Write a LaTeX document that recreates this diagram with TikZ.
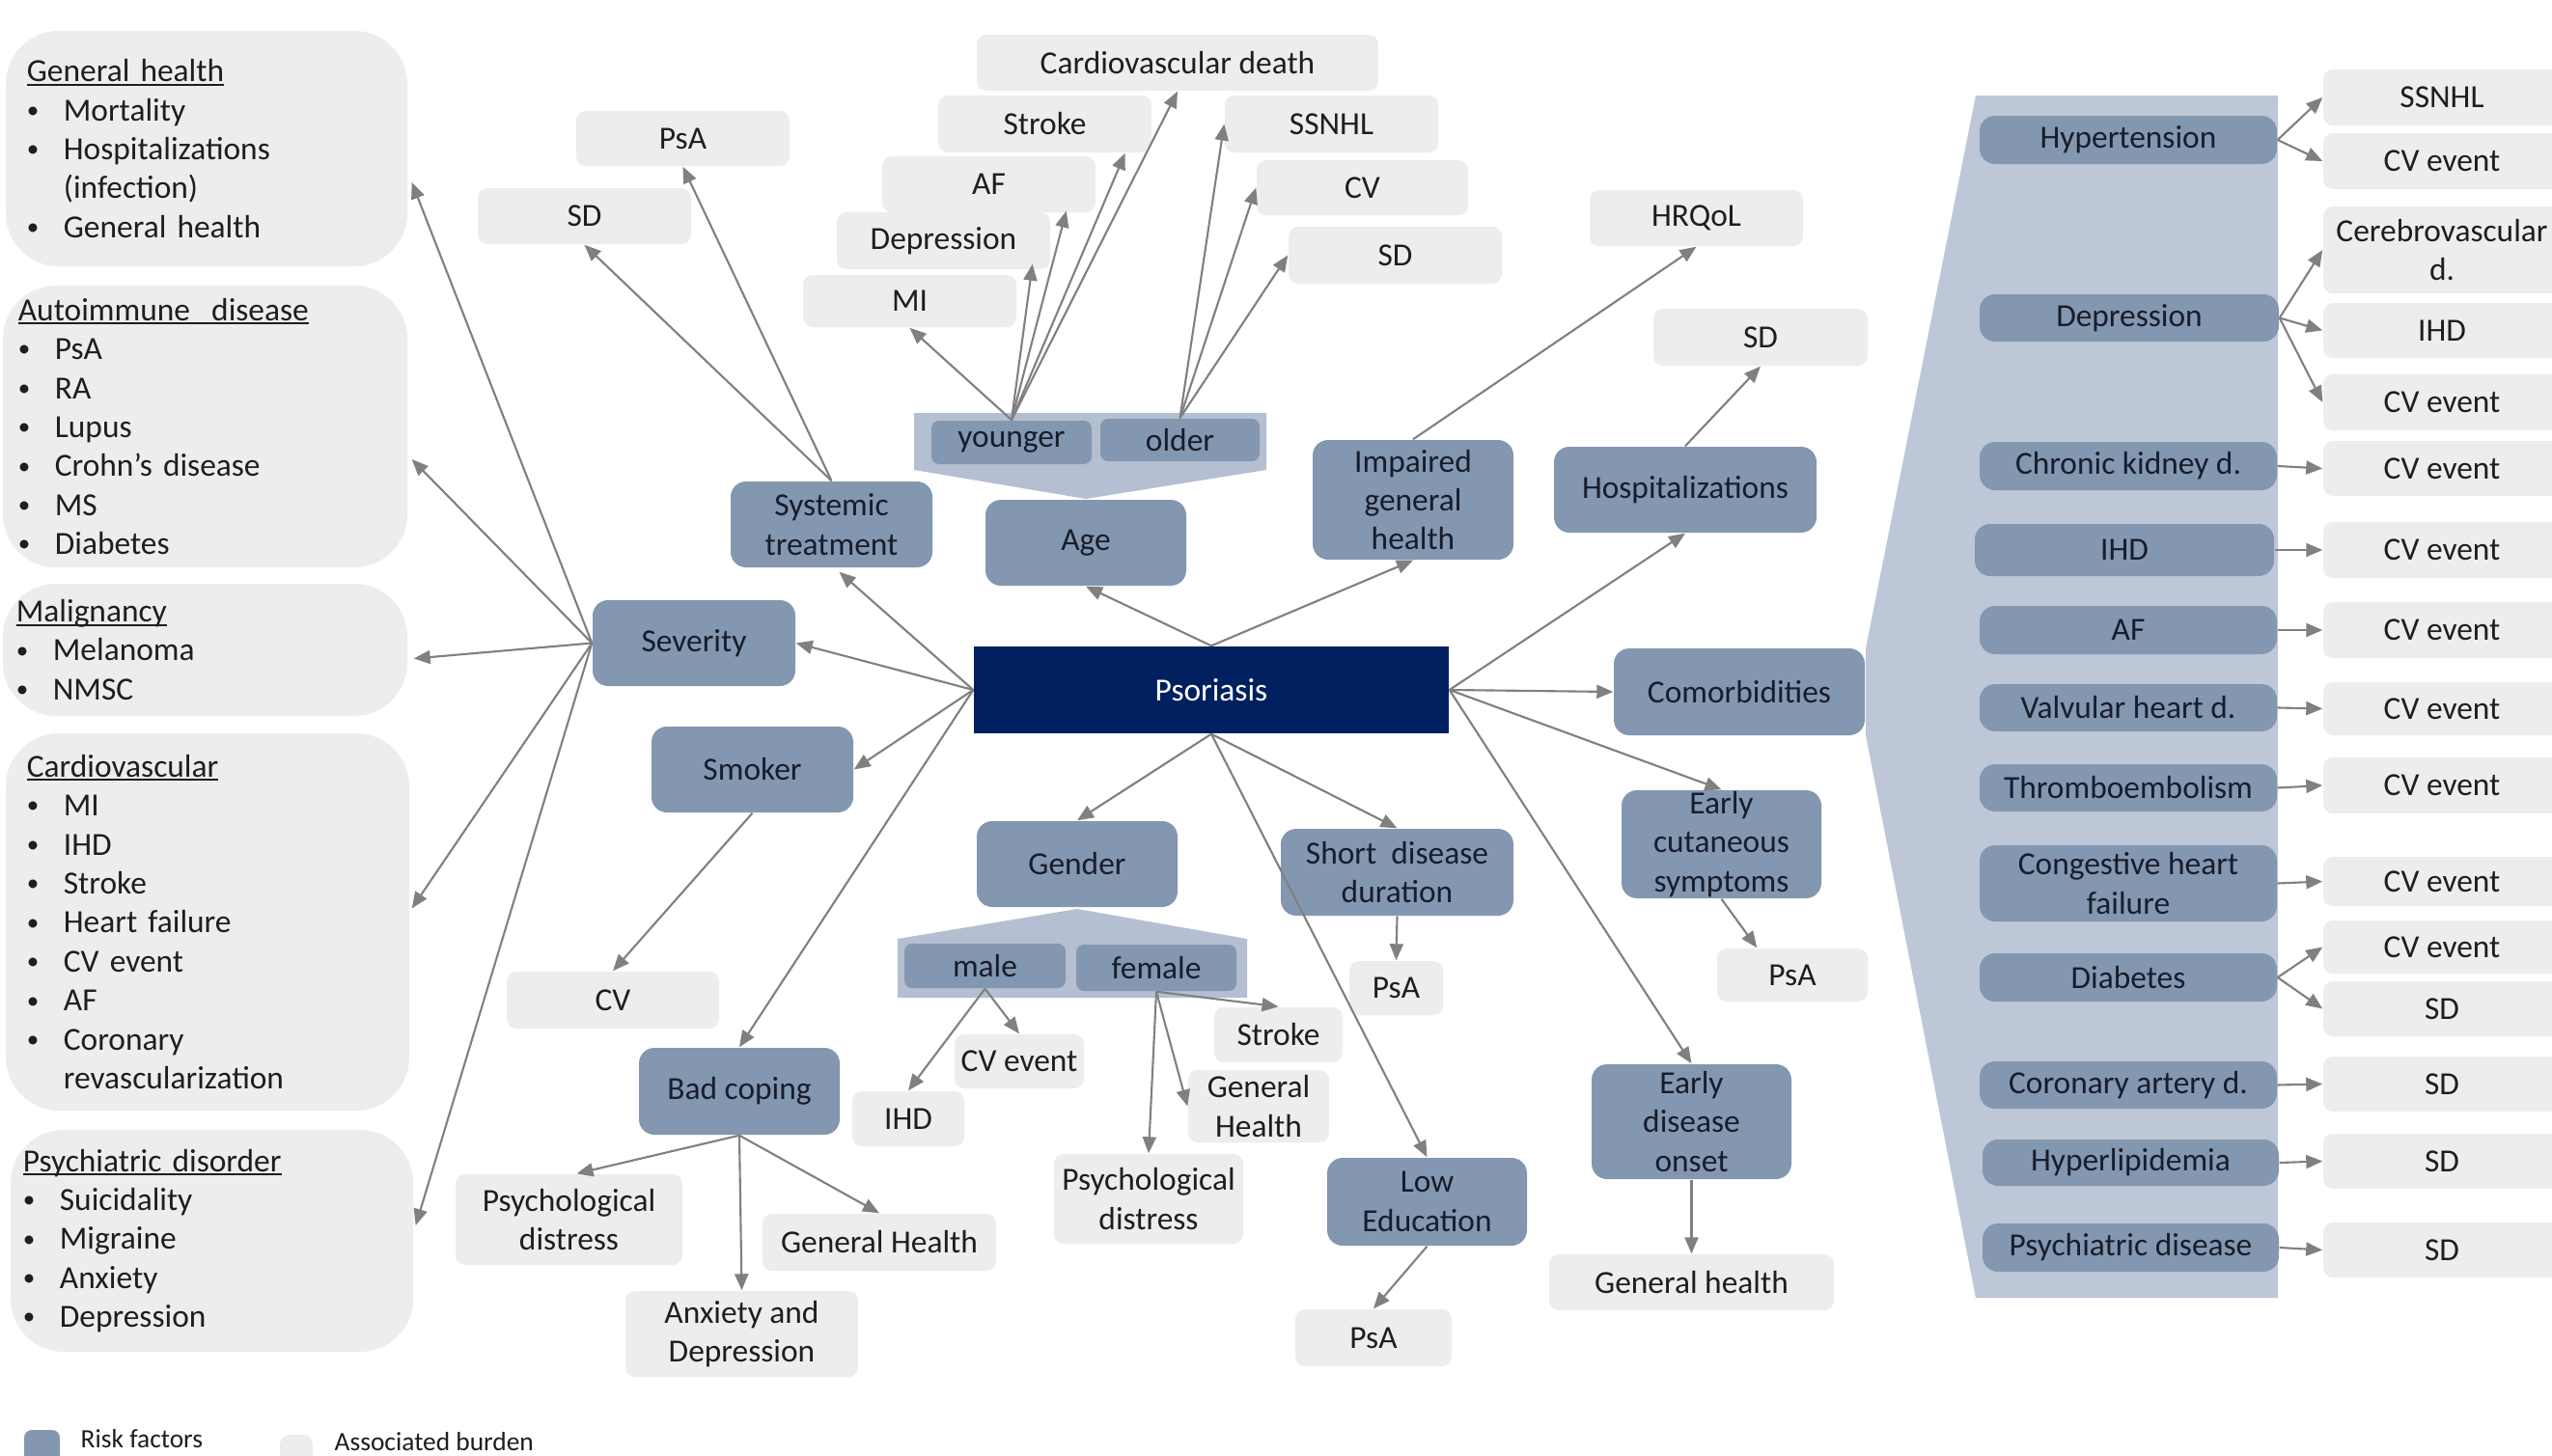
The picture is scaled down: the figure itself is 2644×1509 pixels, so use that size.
\documentclass[tikz,border=0pt]{standalone}
\usepackage{fontspec}
\setmainfont{Carlito}
\usetikzlibrary{arrows.meta,calc}
\definecolor{rfc}{HTML}{8497B0}
\definecolor{abc}{HTML}{EDEDED}
\definecolor{trayA}{HTML}{B4BFD1}
\definecolor{trayC}{HTML}{BDC7D7}
\definecolor{psoc}{HTML}{002060}
\definecolor{arrc}{HTML}{808080}
\definecolor{rftx}{HTML}{161D2C}
\definecolor{abtx}{HTML}{1E1E1E}
\newcommand\Bx[7]{\node[#1, minimum width={(#4-#2)*0.01cm}, minimum height={(#5-#3)*0.01cm}] (#6) at ({(#2+#4)/2},{(#3+#5)/2}) {#7};}
\newcommand\Bul{\makebox[0.38cm][l]{\raisebox{0.8pt}{\scalebox{0.75}{\textbullet}}}}
\newcommand\Ind{\hspace*{0.38cm}}
\newcommand\ttl[1]{\sbox0{#1}\rlap{\rule[-0.04cm]{\wd0}{0.02cm}}\usebox0}
\begin{document}
\begin{tikzpicture}[x=0.01cm, y=-0.01cm, font=\fontsize{9.5}{11.5}\selectfont,
  rf/.style={fill=rfc, rounded corners=0.16cm, text=rftx, inner sep=0pt, align=center},
  rfs/.style={rf, rounded corners=0.08cm},
  ab/.style={fill=abc, rounded corners=0.1cm, text=abtx, inner sep=0pt, align=center},
  lst/.style={fill=abc, rounded corners=0.55cm, text=abtx, inner sep=0pt, align=left},
  pso/.style={fill=psoc, text=white, inner sep=0pt},
  arr/.style={draw=arrc, line width=0.6pt, -{Triangle[length=0.17cm,width=0.14cm]}},
  leg/.style={anchor=base west, inner sep=0pt, text=abtx, font=\fontsize{7.8}{9}\selectfont}]
\useasboundingbox (0,0) rectangle (2644,1509);
\clip (0,0) rectangle (2644,1509);
\fill[white] (0,0) rectangle (2644,1509);

% trays
\fill[trayA] (947,428) -- (1312,428) -- (1312,487) -- (1125,517) -- (947,487) -- cycle;
\fill[trayA] (930,973) -- (1116,942) -- (1292,973) -- (1292,1034) -- (930,1034) -- cycle;
\fill[trayC] (2047,99) -- (2360,99) -- (2360,1345) -- (2047,1345) -- (1933,762) -- (1933,672) -- cycle;

% left lists
\Bx{lst, text width=3.72cm}{6}{32}{422}{276}{gh}{\ttl{General health}\\ \Bul Mortality\\ \Bul Hospitalizations\\ \Ind(infection)\\ \Bul General health}
\Bx{lst, text width=3.87cm}{3}{296}{422}{588}{ai}{\ttl{Autoimmune\ \ disease}\\ \Bul PsA\\ \Bul RA\\ \Bul Lupus\\ \Bul Crohn’s disease\\ \Bul MS\\ \Bul Diabetes}
\Bx{lst, text width=3.91cm}{3}{605}{422}{742}{mal}{\ttl{Malignancy}\\ \Bul Melanoma\\ \Bul NMSC}
\Bx{lst, text width=3.74cm}{6}{760}{424}{1151}{cvl}{\ttl{Cardiovascular}\\ \Bul MI\\ \Bul IHD\\ \Bul Stroke\\ \Bul Heart failure\\ \Bul CV event\\ \Bul AF\\ \Bul Coronary\\ \Ind revascularization}
\Bx{lst, text width=3.91cm}{11}{1171}{428}{1401}{psy}{\ttl{Psychiatric disorder}\\ \Bul Suicidality\\ \Bul Migraine\\ \Bul Anxiety\\ \Bul Depression}

% top associated burden
\Bx{ab}{597}{115}{818}{172}{psa1}{PsA}
\Bx{ab}{495}{195}{716}{253}{sd1}{SD}
\Bx{ab}{1012}{36}{1428}{94}{cvd}{Cardiovascular death}
\Bx{ab}{972}{99}{1193}{158}{strk1}{Stroke}
\Bx{ab}{914}{162}{1135}{220}{af1}{AF}
\Bx{ab}{867}{220}{1088}{279}{dep1}{Depression}
\Bx{ab}{832}{285}{1053}{339}{mi1}{MI}
\Bx{ab}{1269}{99}{1490}{158}{ssnhl1}{SSNHL}
\Bx{ab}{1302}{166}{1521}{223}{cv1}{CV}
\Bx{ab}{1335}{235}{1556}{294}{sd2}{SD}
\Bx{ab}{1647}{197}{1868}{255}{hrq}{HRQoL}
\Bx{ab}{1713}{320}{1935}{379}{sd3}{SD}

% risk factors
\Bx{rf}{757}{499}{966}{588}{sys}{Systemic\\treatment}
\Bx{rf}{1021}{518}{1229}{607}{age}{Age}
\Bx{rfs}{965}{436}{1131}{481}{yng}{younger}
\Bx{rfs}{1140}{434}{1305}{478}{old}{older}
\Bx{rf}{1360}{456}{1568}{580}{imp}{Impaired\\general\\health}
\Bx{rf}{1610}{463}{1882}{552}{hosp}{Hospitalizations}
\Bx{rf}{614}{622}{824}{711}{sev}{Severity}
\Bx{rf}{675}{753}{884}{842}{smk}{Smoker}
\Bx{pso}{1009}{670}{1501}{760}{pso}{Psoriasis}
\Bx{rf}{1672}{672}{1932}{762}{com}{Comorbidities}
\Bx{rf}{1012}{851}{1220}{940}{gen}{Gender}
\Bx{rfs}{937}{978}{1104}{1024}{male}{male}
\Bx{rfs}{1115}{979}{1281}{1027}{fem}{female}
\Bx{rf}{1327}{859}{1568}{949}{sdd}{Short\ \ disease\\duration}
\Bx{rf}{1680}{819}{1887}{931}{ecs}{Early\\cutaneous\\symptoms}
\Bx{rf}{662}{1086}{870}{1176}{bc}{Bad coping}
\Bx{rf}{1375}{1200}{1582}{1291}{lowe}{Low\\Education}
\Bx{rf}{1649}{1103}{1856}{1222}{edo}{Early\\disease\\onset}

% middle associated burden
\Bx{ab}{525}{1007}{745}{1066}{cvs}{CV}
\Bx{ab}{472}{1217}{707}{1311}{psd1}{Psychological\\distress}
\Bx{ab}{790}{1258}{1032}{1317}{ghb}{General Health}
\Bx{ab}{648}{1338}{889}{1427}{anx}{Anxiety and\\Depression}
\Bx{ab}{883}{1131}{999}{1188}{ihdm}{IHD}
\Bx{ab}{989}{1072}{1123}{1128}{cvm}{CV event}
\Bx{ab}{1258}{1044}{1391}{1101}{strf}{Stroke}
\Bx{ab}{1231}{1109}{1377}{1184}{ghf}{General\\Health}
\Bx{ab}{1092}{1196}{1288}{1289}{psdf}{Psychological\\distress}
\Bx{ab}{1398}{996}{1495}{1052}{psas}{PsA}
\Bx{ab}{1342}{1357}{1504}{1416}{psal}{PsA}
\Bx{ab}{1779}{983}{1935}{1038}{psac}{PsA}
\Bx{ab}{1605}{1300}{1900}{1358}{ghe}{General health}

% comorbidities
\Bx{rf}{2051}{120}{2359}{170}{hyp}{Hypertension}
\Bx{rf}{2051}{305}{2361}{354}{depr}{Depression}
\Bx{rf}{2051}{458}{2359}{508}{ckd}{Chronic kidney d.}
\Bx{rf}{2046}{543}{2356}{597}{ihdr}{IHD}
\Bx{rf}{2051}{628}{2359}{678}{afr}{AF}
\Bx{rf}{2051}{709}{2359}{758}{valv}{Valvular heart d.}
\Bx{rf}{2051}{792}{2359}{841}{thr}{Thromboembolism}
\Bx{rf}{2051}{876}{2359}{955}{chf}{Congestive heart\\failure}
\Bx{rf}{2051}{988}{2359}{1038}{diab}{Diabetes}
\Bx{rf}{2051}{1100}{2359}{1149}{cad}{Coronary artery d.}
\Bx{rf}{2054}{1181}{2361}{1229}{hyl}{Hyperlipidemia}
\Bx{rf}{2054}{1268}{2361}{1318}{psyd}{Psychiatric disease}

\Bx{ab}{2407}{72}{2653}{130}{g1}{SSNHL}
\Bx{ab}{2407}{138}{2653}{196}{g2}{CV event}
\Bx{ab}{2407}{214}{2653}{304}{g3}{Cerebrovascular\\d.}
\Bx{ab}{2407}{314}{2653}{371}{g4}{IHD}
\Bx{ab}{2407}{388}{2653}{446}{g5}{CV event}
\Bx{ab}{2407}{457}{2653}{514}{g6}{CV event}
\Bx{ab}{2407}{541}{2653}{599}{g7}{CV event}
\Bx{ab}{2407}{624}{2653}{682}{g8}{CV event}
\Bx{ab}{2407}{707}{2653}{762}{g9}{CV event}
\Bx{ab}{2407}{785}{2653}{843}{g10}{CV event}
\Bx{ab}{2407}{888}{2653}{939}{g11}{CV event}
\Bx{ab}{2407}{954}{2653}{1009}{g12}{CV event}
\Bx{ab}{2407}{1017}{2653}{1074}{g13}{SD}
\Bx{ab}{2407}{1095}{2653}{1152}{g14}{SD}
\Bx{ab}{2407}{1175}{2653}{1232}{g15}{SD}
\Bx{ab}{2407}{1267}{2653}{1324}{g16}{SD}

% legend
\Bx{rfs}{25}{1482}{62}{1530}{legrf}{}
\Bx{ab}{290}{1487}{324}{1530}{legab}{}
\node[leg] (legrft) at (83,1500) {Risk factors};
\node[leg] (legabt) at (346,1503) {Associated burden};

% connectors from Psoriasis
\draw[arr] (pso.west) -- (sev.east);
\draw[arr] (pso.west) -- (smk.east);
\draw[arr] (pso.west) -- ($(sys.south)+(8,4)$);
\draw[arr] (pso.west) -- (bc.north);
\draw[arr] (pso.north) -- (age.south);
\draw[arr] (pso.north) -- (imp.south);
\draw[arr] (pso.east) -- (hosp.south);
\draw[arr] (pso.east) -- (com.west);
\draw[arr] (pso.east) -- (ecs.north);
\draw[arr] (pso.east) -- (edo.north);
\draw[arr] (pso.south) -- (gen.north);
\draw[arr] (pso.south) -- (sdd.north);
\draw[arr] (pso.south) -- (lowe.north);

% severity
\draw[arr] (sev.west) -- ($(gh.east)+(4,35)$);
\draw[arr] (sev.west) -- ($(ai.east)+(4,34)$);
\draw[arr] (sev.west) -- ($(mal.east)+(6,9)$);
\draw[arr] (sev.west) -- ($(cvl.east)+(2,-14)$);
\draw[arr] (sev.west) -- ($(psy.east)+(2,-16)$);

% systemic treatment
\draw[arr] (sys.north) -- (psa1.south);
\draw[arr] (sys.north) -- (sd1.south);

% age
\draw[arr] (yng.north) -- (mi1.south);
\draw[arr] (yng.north) -- ($(dep1.south east)+(-19,-6)$);
\draw[arr] (yng.north) -- ($(af1.south east)+(-31,-2)$);
\draw[arr] (yng.north) -- ($(strk1.south east)+(-28,0)$);
\draw[arr] (yng.north) -- (cvd.south);
\draw[arr] (old.north) -- (ssnhl1.west);
\draw[arr] (old.north) -- (cv1.west);
\draw[arr] (old.north) -- (sd2.west);

\draw[arr] (imp.north) -- (hrq.south);
\draw[arr] (hosp.north) -- (sd3.south);
\draw[arr] (smk.south) -- (cvs.north);
\draw[arr] (bc.south) -- ($(psd1.north)+(8,0)$);
\draw[arr] (bc.south) -- (ghb.north);
\draw[arr] (bc.south) -- (anx.north);
\draw[arr] (male.south) -- (ihdm.north);
\draw[arr] (male.south) -- (cvm.north);
\draw[arr] (fem.south) -- (strf.north);
\draw[arr] (fem.south) -- (ghf.west);
\draw[arr] (fem.south) -- (psdf.north);
\draw[arr] (sdd.south) -- (psas.north);
\draw[arr] (ecs.south) -- ($(psac.north west)+(42,0)$);
\draw[arr] (edo.south) -- (ghe.north);
\draw[arr] (lowe.south) -- (psal.north);

% comorbidities
\draw[arr] (hyp.east) -- (g1.west);
\draw[arr] (hyp.east) -- (g2.west);
\draw[arr] (depr.east) -- (g3.west);
\draw[arr] (depr.east) -- (g4.west);
\draw[arr] (depr.east) -- (g5.west);
\draw[arr] (ckd.east) -- (g6.west);
\draw[arr] (ihdr.east) -- (g7.west);
\draw[arr] (afr.east) -- (g8.west);
\draw[arr] (valv.east) -- (g9.west);
\draw[arr] (thr.east) -- (g10.west);
\draw[arr] (chf.east) -- (g11.west);
\draw[arr] (diab.east) -- (g12.west);
\draw[arr] (diab.east) -- (g13.west);
\draw[arr] (cad.east) -- (g14.west);
\draw[arr] (hyl.east) -- (g15.west);
\draw[arr] (psyd.east) -- (g16.west);
\end{tikzpicture}
\end{document}
